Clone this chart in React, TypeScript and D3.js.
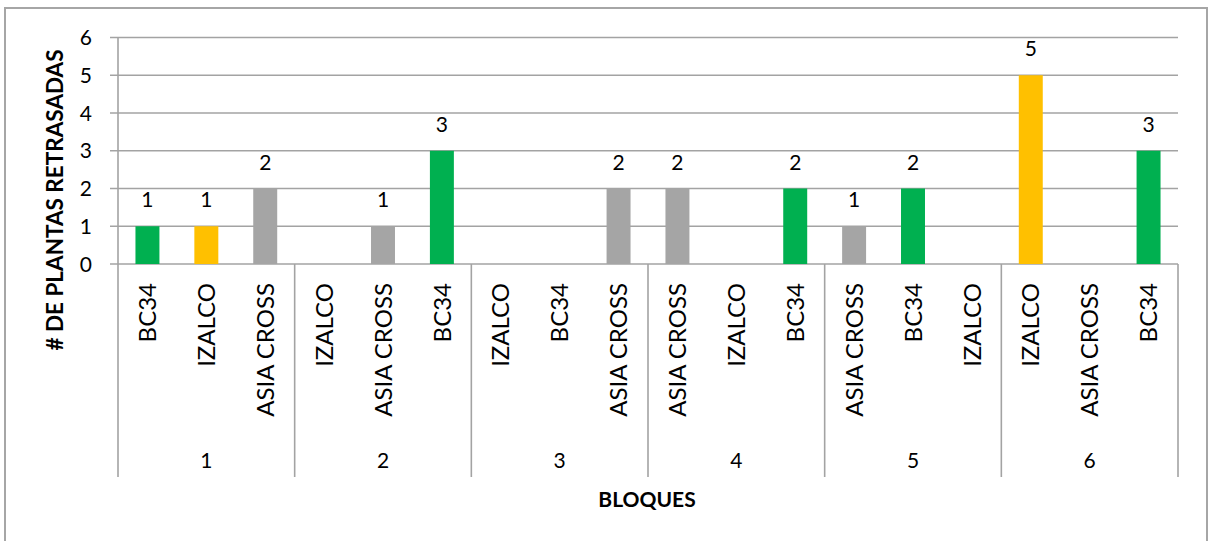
import React from "react";
import * as d3 from "d3";

// chart data
const blocks = ["1", "2", "3", "4", "5", "6"];
const varieties = [
  ["BC34", "IZALCO", "ASIA CROSS"],
  ["IZALCO", "ASIA CROSS", "BC34"],
  ["IZALCO", "BC34", "ASIA CROSS"],
  ["ASIA CROSS", "IZALCO", "BC34"],
  ["ASIA CROSS", "BC34", "IZALCO"],
  ["IZALCO", "ASIA CROSS", "BC34"],
];
const counts = [
  [1, 1, 2],
  [0, 1, 3],
  [0, 0, 2],
  [2, 0, 2],
  [1, 2, 0],
  [5, 0, 3],
];
const yTicks = [0, 1, 2, 3, 4, 5, 6];
const colors: Record<string, string> = {
  BC34: "#00B050",
  IZALCO: "#FFC000",
  "ASIA CROSS": "#A5A5A5",
};

const W = 1211;
const H = 541;
const FONT = "Lato, 'Open Sans', sans-serif";
const GRID = "#a3a3a3";

export default function App() {
  const rows = blocks.flatMap((b, bi) =>
    varieties[bi].map((v, vi) => ({ key: `${b}-${vi}`, block: b, variety: v, value: counts[bi][vi] }))
  );

  const left = 118, right = 1178, top = 37.5, base = 264, axisBottom = 477;
  const x = d3.scaleBand<string>()
    .domain(rows.map(d => d.key))
    .range([left, right])
    .paddingInner(0.593)
    .paddingOuter(0.2965);
  const xb = d3.scaleBand<string>().domain(blocks).range([left, right]);
  const y = d3.scaleLinear().domain([0, 6]).range([base, top]);

  return (
    <svg width={W} height={H} style={{ position: "absolute", left: 0, top: 0, background: "#fff" }}>
      <rect x={5} y={8} width={1202} height={560} fill="#fff" stroke="#a6a6a6" strokeWidth={2} />

      {/* gridlines + y ticks */}
      {yTicks.map(t => (
        <g key={t}>
          <line x1={110} x2={right} y1={y(t)} y2={y(t)} stroke={GRID} strokeWidth={1.6} />
          <text x={92} y={y(t)} dy="0.36em" textAnchor="end" fontFamily={FONT} fontSize={21} fill="#000">
            {t}
          </text>
        </g>
      ))}
      <line x1={left} x2={left} y1={top} y2={axisBottom} stroke={GRID} strokeWidth={1.6} />

      {/* bars */}
      {rows.map(d => (
        <rect key={d.key} x={x(d.key)} y={y(d.value)} width={x.bandwidth()} height={base - y(d.value)} fill={colors[d.variety]} />
      ))}
      {rows.filter(d => d.value > 0).map(d => (
        <text key={"v" + d.key} x={(x(d.key) ?? 0) + x.bandwidth() / 2} y={y(d.value) - 19} textAnchor="middle"
          fontFamily={FONT} fontSize={21} fill="#000">
          {d.value}
        </text>
      ))}

      {/* category axis */}
      {blocks.map(b => (
        <line key={"s" + b} x1={(xb(b) ?? 0) + xb.bandwidth()} x2={(xb(b) ?? 0) + xb.bandwidth()} y1={base} y2={axisBottom}
          stroke={GRID} strokeWidth={1.6} />
      ))}
      {rows.map(d => {
        const cx = (x(d.key) ?? 0) + x.bandwidth() / 2;
        return (
          <text key={"c" + d.key} transform={`translate(${cx},283) rotate(-90)`} textAnchor="end" dy="0.36em"
            fontFamily={FONT} fontSize={24} fill="#000">
            {d.variety}
          </text>
        );
      })}
      {blocks.map(b => (
        <text key={"g" + b} x={(xb(b) ?? 0) + xb.bandwidth() / 2} y={468} textAnchor="middle"
          fontFamily={FONT} fontSize={21} fill="#000">
          {b}
        </text>
      ))}

      {/* axis titles */}
      <text transform="translate(63,200) rotate(-90)" textAnchor="middle" fontFamily={FONT}
        fontWeight="bold" fontSize={22.5} fill="#000">
        # DE PLANTAS RETRASADAS
      </text>
      <text x={647} y={507} textAnchor="middle" fontFamily={FONT} fontWeight="bold" fontSize={21} fill="#000">
        BLOQUES
      </text>
    </svg>
  );
}
